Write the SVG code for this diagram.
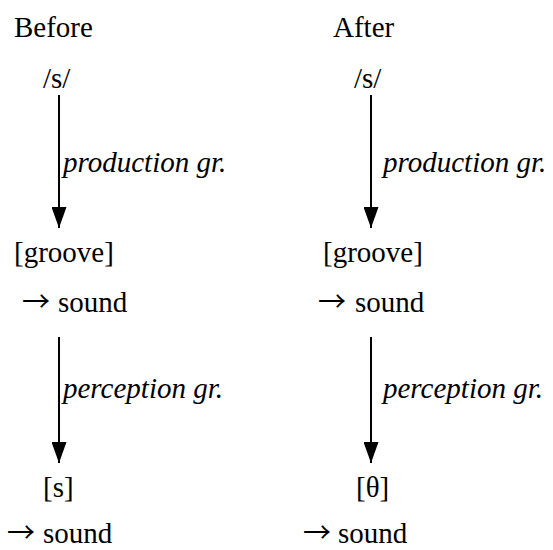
<svg xmlns="http://www.w3.org/2000/svg" width="553" height="550" viewBox="0 0 553 550">
<defs>
<style>
text{font-family:'Liberation Serif',Tinos,'Times New Roman','DejaVu Serif',serif;font-size:29px;fill:#000}
.lab{font-style:italic}
.arr{font-family:'Noto Sans CJK JP','Liberation Serif',serif;font-size:28px}
.conn{stroke:#000;stroke-width:2;fill:none;marker-end:url(#ah)}
</style>
<marker id="ah" viewBox="0 0 21 15" markerWidth="21" markerHeight="15" refX="21" refY="7.5" orient="auto" markerUnits="userSpaceOnUse">
<path d="M0,0 L21,7.5 L0,15 z" fill="#000"/>
</marker>
</defs>
<rect width="553" height="550" fill="#fff"/>
<g id="headers">
<text x="14" y="37">Before</text>
<text x="333" y="37">After</text>
</g>
<g id="before-s"><text x="43" y="88">/s/</text></g>
<g id="before-groove"><text x="14" y="262">[groove]</text><text y="312"><tspan class="arr" x="22">→</tspan><tspan x="58">sound</tspan></text></g>
<g id="before-result"><text x="43" y="497">[s]</text><text y="543"><tspan class="arr" x="7">→</tspan><tspan x="43">sound</tspan></text></g>
<g id="after-s"><text x="354" y="88">/s/</text></g>
<g id="after-groove"><text x="323" y="262">[groove]</text><text y="312"><tspan class="arr" x="318">→</tspan><tspan x="355">sound</tspan></text></g>
<g id="after-result"><text x="356" y="497">[θ]</text><text y="543"><tspan class="arr" x="303">→</tspan><tspan x="338">sound</tspan></text></g>
<g id="connectors">
<path class="conn" d="M59,95 V228"/>
<path class="conn" d="M59,337 V463"/>
<path class="conn" d="M371,95 V228"/>
<path class="conn" d="M371,337 V463"/>
<text class="lab" x="63" y="172">production gr.</text>
<text class="lab" x="63" y="398">perception gr.</text>
<text class="lab" x="383" y="172">production gr.</text>
<text class="lab" x="383" y="398">perception gr.</text>
</g>
</svg>
